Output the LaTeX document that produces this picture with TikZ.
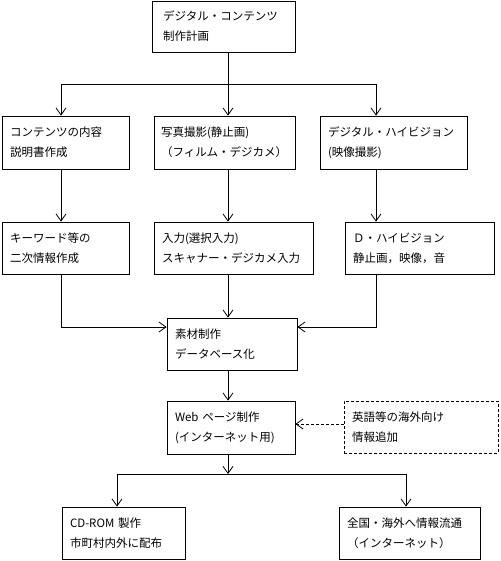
\documentclass[tikz,border=0pt]{standalone}
\usepackage{fontspec}
\newfontfamily\jpfont{Noto Sans CJK JP}
\usetikzlibrary{arrows.meta}
\begin{document}
\begin{tikzpicture}[x=1pt,y=-1pt,
  box/.style={draw, line width=0.8pt, inner xsep=8pt, inner ysep=0pt, align=left,
    font=\jpfont\fontsize{11.5}{20}\selectfont},
  dbox/.style={box, dash pattern=on 3pt off 2pt},
  link/.style={line width=0.8pt},
  arr/.style={link, -{Straight Barb[length=7pt,width=10pt]}},
  darr/.style={arr, dash pattern=on 3pt off 2pt}]
\useasboundingbox (0,0) rectangle (500,561);
% boxes
\node[box, inner xsep=11pt, text width=121pt, minimum height=51pt] (top) at (223.5,26.5) {デジタル・コンテンツ\\制作計画};
\node[box, text width=111pt, minimum height=53pt] (a1) at (65.5,142.5) {コンテンツの内容\\説明書作成};
\node[box, inner xsep=7pt, text width=127pt, minimum height=53pt] (a2) at (224.5,142.5) {写真撮影(静止画)\\（フィルム・デジカメ）};
\node[box, text width=131pt, minimum height=53pt] (a3) at (393.5,142.5) {デジタル・ハイビジョン\\(映像撮影)};
\node[box, text width=111pt, minimum height=52pt] (b1) at (65.5,248) {キーワード等の\\二次情報作成};
\node[box, text width=143pt, minimum height=52pt] (b2) at (233.5,248) {入力(選択入力)\\スキャナー・デジカメ入力};
\node[box, text width=133pt, minimum height=52pt] (b3) at (419.5,248) {Ｄ・ハイビジョン\\静止画，映像，音};
\node[box, text width=114pt, minimum height=52pt] (m) at (232,344) {素材制作\\データベース化};
\node[box, text width=112pt, minimum height=53pt] (w) at (231,427.5) {Web ページ制作\\(インターネット用)};
\node[dbox, text width=138pt, minimum height=52pt] (d) at (421,427) {英語等の海外向け\\情報追加};
\node[box, text width=107pt, minimum height=52pt] (c1) at (123.5,533) {CD-ROM 製作\\市町村内外に配布};
\node[box, text width=125pt, minimum height=52pt] (c2) at (409.5,533) {全国・海外へ情報流通\\（インターネット）};
% helper coordinates
\coordinate (s1) at (61,84);
\coordinate (s2) at (228,84);
\coordinate (s3) at (376,84);
\coordinate (h) at (0,327);
\coordinate (dy) at (0,424);
\coordinate (j) at (228,474);
\coordinate (x4) at (117,0);
\coordinate (x5) at (406,0);
% connectors
\draw[link] (top.south -| s2) -- (s2);
\draw[link] (s1) -- (s3);
\draw[arr] (s1) -- (a1.north -| s1);
\draw[arr] (s2) -- (a2.north -| s2);
\draw[arr] (s3) -- (a3.north -| s3);
\draw[arr] (a1.south -| s1) -- (b1.north -| s1);
\draw[arr] (a2.south -| s2) -- (b2.north -| s2);
\draw[arr] (a3.south -| s3) -- (b3.north -| s3);
\draw[arr] (b1.south -| s1) |- (m.west |- h);
\draw[arr] (b2.south -| s2) -- (m.north -| s2);
\draw[arr] (b3.south -| s3) |- (m.east |- h);
\draw[arr] (m.south -| s2) -- (w.north -| s2);
\draw[darr] (d.west |- dy) -- (w.east |- dy);
\draw[arr] (w.south -| s2) -- (j);
\draw[arr] (j) -| (c1.north -| x4);
\draw[arr] (j) -| (c2.north -| x5);
\end{tikzpicture}
\end{document}
